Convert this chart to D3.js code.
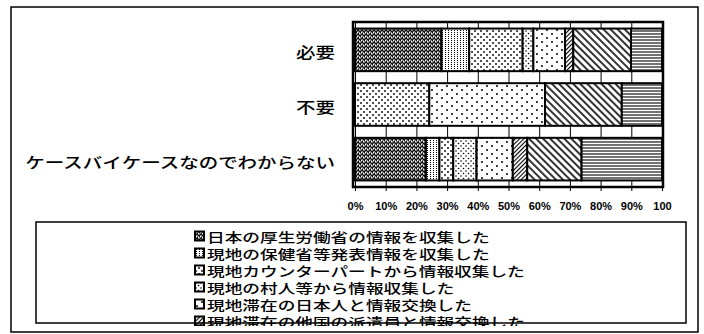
<!DOCTYPE html>
<html>
<head>
<meta charset="utf-8">
<style>
  body { margin: 0; background: #fff; }
  .cat { font-family: "Noto Sans CJK JP", sans-serif; font-size: 15px; font-weight: 500; }
  .leg { font-family: "Noto Sans CJK JP", sans-serif; font-size: 13px; font-weight: 500; }
  .axis text { font-family: "Liberation Sans", Arial, sans-serif; font-size: 11px; font-weight: bold; }
  .axis .domain { display: none; }
</style>
<script src="https://d3js.org/d3.v7.min.js"></script>
</head>
<body>
<svg width="704" height="334"></svg>
<script>
var categories = ["必要", "不要", "ケースバイケースなのでわからない"];

var seriesNames = [
  "日本の厚生労働省の情報を収集した",
  "現地の保健省等発表情報を収集した",
  "現地カウンターパートから情報収集した",
  "現地の村人等から情報収集した",
  "現地滞在の日本人と情報交換した",
  "現地滞在の他国の派遣員と情報交換した",
  "インターネットで情報収集した",
  "その他"
];

// percent per series, one array per category
var needed     = [28.2, 9.0, 17.4, 3.5, 10.3, 2.7, 18.8, 10.1];
var notNeeded  = [0, 0, 24.2, 0, 37.7, 0, 25.0, 13.1];
var caseByCase = [23.1, 4.4, 4.5, 7.6, 11.8, 4.7, 17.7, 26.2];

var tickValues = [0, 10, 20, 30, 40, 50, 60, 70, 80, 90, 100];
var tickLabels = ["0%", "10%", "20%", "30%", "40%", "50%", "60%", "70%", "80%", "90%", "100"];

var svg = d3.select("svg");
var plot = { left: 355, right: 662, top: 22, bottom: 187 };

// hatch / stipple patterns
var defs = svg.append("defs");
function pat(id, w, h, tr) {
  var p = defs.append("pattern").attr("id", id).attr("patternUnits", "userSpaceOnUse")
    .attr("width", w).attr("height", h);
  if (tr) p.attr("patternTransform", tr);
  p.append("rect").attr("width", w).attr("height", h).attr("fill", "#fff");
  return p;
}
var p0 = pat("p0", 4, 4);
p0.select("rect").attr("fill", "#808080");
[[0,0],[2,1],[1,2],[3,3],[0,3],[2,2]].forEach(function(d) {
  p0.append("rect").attr("x", d[0]).attr("y", d[1]).attr("width", 1).attr("height", 1).attr("fill", "#111");
});
[[3,1],[1,0]].forEach(function(d) {
  p0.append("rect").attr("x", d[0]).attr("y", d[1]).attr("width", 1).attr("height", 1).attr("fill", "#fff");
});
var p1 = pat("p1", 3, 2);
p1.append("rect").attr("x", 1).attr("y", 0).attr("width", 1).attr("height", 1).attr("fill", "#000");
var p2 = pat("p2", 6, 6);
p2.append("circle").attr("cx", 1).attr("cy", 1).attr("r", 0.9).attr("fill", "#000");
p2.append("circle").attr("cx", 4).attr("cy", 4).attr("r", 0.9).attr("fill", "#000");
var p3 = pat("p3", 5, 5);
p3.append("circle").attr("cx", 1).attr("cy", 1).attr("r", 0.8).attr("fill", "#000");
p3.append("circle").attr("cx", 3.5).attr("cy", 3.5).attr("r", 0.8).attr("fill", "#000");
var p4 = pat("p4", 10, 8);
p4.append("circle").attr("cx", 2).attr("cy", 2).attr("r", 1).attr("fill", "#000");
p4.append("circle").attr("cx", 7).attr("cy", 6).attr("r", 1).attr("fill", "#000");
var p5 = pat("p5", 3, 3, "rotate(45)");
p5.append("line").attr("x1", 0.5).attr("y1", 0).attr("x2", 0.5).attr("y2", 3).attr("stroke", "#000").attr("stroke-width", 1.2);
var p6 = pat("p6", 5, 5, "rotate(-45)");
p6.append("line").attr("x1", 1).attr("y1", 0).attr("x2", 1).attr("y2", 5).attr("stroke", "#000").attr("stroke-width", 1.6);
var p7 = pat("p7", 4, 3);
p7.append("line").attr("x1", 0).attr("y1", 1).attr("x2", 4).attr("y2", 1).attr("stroke", "#000").attr("stroke-width", 1.1);

var fills = seriesNames.map(function(d, i) { return "url(#p" + i + ")"; });

// outer frame
svg.append("rect").attr("x", 11).attr("y", 7).attr("width", 687).attr("height", 325)
  .attr("fill", "none").attr("stroke", "#000").attr("stroke-width", 1.5);

var x = d3.scaleLinear().domain([0, 100]).range([plot.left, plot.right]);
var y = d3.scaleBand().domain(categories).range([plot.top, plot.bottom])
  .paddingInner(0.22).paddingOuter(0.12);

// gridlines
svg.append("g")
  .attr("transform", "translate(0," + plot.bottom + ")")
  .call(d3.axisBottom(x).tickValues(tickValues).tickSize(-(plot.bottom - plot.top)).tickFormat(""))
  .call(function(g) { g.select(".domain").remove(); })
  .selectAll("line").attr("stroke", "#000").attr("stroke-width", 1);

var rows = [needed, notNeeded, caseByCase].map(function(v, j) {
  var r = { cat: categories[j] };
  v.forEach(function(val, i) { r["s" + i] = val; });
  return r;
});
var keys = seriesNames.map(function(d, i) { return "s" + i; });
var stacked = d3.stack().keys(keys)(rows);

svg.append("g").selectAll("g")
  .data(stacked)
  .enter().append("g")
  .attr("fill", function(d, i) { return fills[i]; })
  .selectAll("rect")
  .data(function(d) { return d.filter(function(s) { return s[1] - s[0] > 0; }); })
  .enter().append("rect")
  .attr("x", function(d) { return x(d[0]); })
  .attr("y", function(d) { return y(d.data.cat); })
  .attr("width", function(d) { return x(d[1]) - x(d[0]); })
  .attr("height", y.bandwidth())
  .attr("stroke", "#000")
  .attr("stroke-width", 2);

// plot frame
svg.append("rect").attr("x", plot.left - 2).attr("y", plot.top)
  .attr("width", plot.right - plot.left + 3).attr("height", plot.bottom - plot.top)
  .attr("fill", "none").attr("stroke", "#000").attr("stroke-width", 2.5);

// x axis
svg.append("g")
  .attr("class", "axis")
  .attr("transform", "translate(0," + plot.bottom + ")")
  .call(d3.axisBottom(x).tickValues(tickValues).tickSize(4).tickPadding(11)
    .tickFormat(function(d, i) { return tickLabels[i]; }))
  .selectAll("line").attr("stroke", "#000");

// category labels
svg.append("g").selectAll("text")
  .data(categories)
  .enter().append("text")
  .attr("class", "cat")
  .attr("transform", function(d) {
    return "translate(335," + (y(d) + y.bandwidth() / 2 + 2) + ") scale(1.3,1)";
  })
  .attr("text-anchor", "end")
  .attr("dominant-baseline", "central")
  .text(function(d) { return d; });

// legend
var legBox = { x: 36, y: 222, w: 650, h: 101 };
defs.append("clipPath").attr("id", "legclip")
  .append("rect").attr("x", 0).attr("y", 0).attr("width", 704).attr("height", 326);
var leg = svg.append("g").attr("clip-path", "url(#legclip)");
var item = leg.selectAll("g")
  .data(seriesNames)
  .enter().append("g")
  .attr("transform", function(d, i) { return "translate(195," + (236 + i * 17) + ")"; });
item.append("rect")
  .attr("x", 0).attr("y", -4.5).attr("width", 9).attr("height", 9)
  .attr("fill", function(d, i) { return fills[i]; })
  .attr("stroke", "#000").attr("stroke-width", 2);
item.append("text")
  .attr("class", "leg")
  .attr("transform", "translate(12,0) scale(1.36,1)")
  .attr("dominant-baseline", "central")
  .text(function(d) { return d; });
svg.append("rect").attr("x", legBox.x).attr("y", legBox.y).attr("width", legBox.w).attr("height", legBox.h)
  .attr("fill", "none").attr("stroke", "#000").attr("stroke-width", 1.5);
</script>
</body>
</html>
